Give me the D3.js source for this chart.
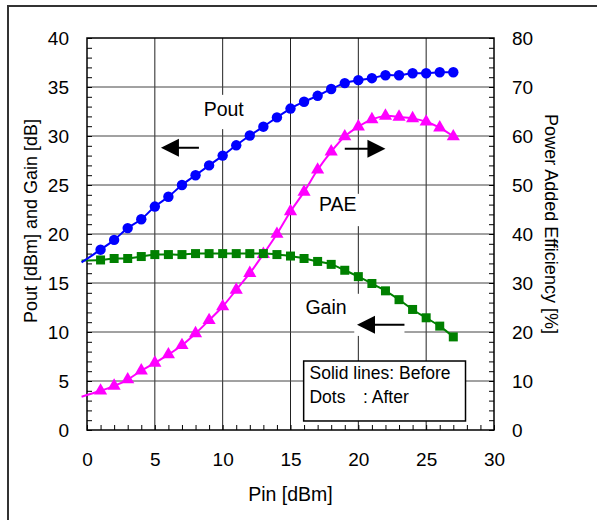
<!DOCTYPE html>
<html>
<head>
<meta charset="utf-8">
<script src="https://d3js.org/d3.v7.min.js"></script>
<style>
  body { margin: 0; background: #fff; }
  text { font-family: "Liberation Sans", Arial, sans-serif; fill: #000; }
</style>
</head>
<body>
<div id="chart"></div>
<script>
// Pin [dBm] for the measured dots
const pin = [1,2,3,4,5,6,7,8,9,10,11,12,13,14,15,16,17,18,19,20,21,22,23,24,25,26,27];
// "After" (dots)
const poutAfter = [18.4,19.4,20.6,21.5,22.8,23.8,25.0,26.0,27.0,28.0,29.05,30.05,30.95,31.9,32.8,33.5,34.1,34.8,35.4,35.7,35.9,36.2,36.2,36.4,36.4,36.5,36.5];
const gainAfter = [17.35,17.5,17.5,17.7,17.9,17.9,17.9,18.0,18.0,18.0,18.0,18.0,18.0,17.9,17.75,17.5,17.2,16.9,16.3,15.65,14.95,14.2,13.3,12.3,11.45,10.6,9.5];
const paeAfter = [8.0,9.0,10.3,12.1,13.7,15.4,17.3,19.7,22.4,25.2,28.6,32.0,35.9,40.0,44.6,48.6,53.1,56.8,59.9,61.9,63.4,64.1,63.9,63.6,62.9,61.7,59.9];
// "Before" (solid lines)
const pinBefore = [-0.4,1,2,3,4,5,6,7,8,9,10,11,12,13,14,15,16,17,18,19,20,21,22,23,24,25,26,27];
const poutBefore = [17.1,18.4,19.4,20.6,21.5,22.8,23.8,25.0,26.0,27.0,28.0,29.05,30.05,30.95,31.9,32.8,33.5,34.1,34.8,35.4,35.7,35.9,36.2,36.2,36.4,36.4,36.5,36.5];
const gainBefore = [17.3,17.35,17.5,17.5,17.7,17.9,17.9,17.9,18.0,18.0,18.0,18.0,18.0,18.0,17.9,17.75,17.5,17.2,16.9,16.3,15.65,14.95,14.2,13.3,12.3,11.45,10.6,9.5];
const paeBefore = [6.8,8.0,9.0,10.3,12.1,13.7,15.4,17.3,19.7,22.4,25.2,28.6,32.0,35.9,40.0,44.6,48.6,53.1,56.8,59.9,61.9,63.4,64.1,63.9,63.6,62.9,61.7,59.9];

const xTicks = [0,5,10,15,20,25,30];
const yLeftTicks = [0,5,10,15,20,25,30,35,40];
const yRightTicks = [0,10,20,30,40,50,60,70,80];

const w = 597, h = 520;
const pLeft = 87, pRight = 494, pTop = 38, pBottom = 430;

const svg = d3.select("#chart").append("svg")
  .attr("width", w).attr("height", h);

// outer frame
svg.append("rect")
  .attr("x", 8).attr("y", 6).attr("width", 620).attr("height", 540)
  .attr("fill", "#fff").attr("stroke", "#333").attr("stroke-width", 2);

const x = d3.scaleLinear().domain([0, 30]).range([pLeft, pRight]);
const yL = d3.scaleLinear().domain([0, 40]).range([pBottom, pTop]);
const yR = d3.scaleLinear().domain([0, 80]).range([pBottom, pTop]);

// gridlines
svg.append("g").selectAll("line")
  .data(xTicks.slice(1, -1)).enter().append("line")
  .attr("x1", d => x(d)).attr("x2", d => x(d))
  .attr("y1", pTop).attr("y2", pBottom)
  .attr("stroke", "#222").attr("stroke-width", 1);
svg.append("g").selectAll("line")
  .data(yLeftTicks.slice(1, -1)).enter().append("line")
  .attr("x1", pLeft).attr("x2", pRight)
  .attr("y1", d => yL(d)).attr("y2", d => yL(d))
  .attr("stroke", "#444").attr("stroke-width", 1);

// white boxes behind the annotations
const masks = [[7.9, 34.2, 4.6, 3.5], [16.6, 24.1, 3.7, 3.3], [19.7, 13.9, 3.7, 4.3]];
svg.append("g").selectAll("rect")
  .data(masks).enter().append("rect")
  .attr("x", d => x(d[0])).attr("y", d => yL(d[1]))
  .attr("width", d => x(d[0] + d[2]) - x(d[0]))
  .attr("height", d => yL(d[1] - d[3]) - yL(d[1]))
  .attr("fill", "#fff");

// axes (ticks inside)
function styleAxis(g) {
  g.select(".domain").remove();
  g.selectAll("line").attr("stroke", "#000");
  g.selectAll("text").style("font-size", "19px").style("font-family", "'Liberation Sans', Arial, sans-serif");
}
svg.append("g").attr("transform", `translate(0,${pBottom})`)
  .call(d3.axisBottom(x).tickValues(d3.range(0, 31)).tickSize(-5).tickPadding(23)
    .tickFormat(d => xTicks.includes(d) ? d : ""))
  .call(styleAxis);
svg.append("g").attr("transform", `translate(${pLeft},0)`)
  .call(d3.axisLeft(yL).tickValues(d3.range(0, 41)).tickSize(-5).tickPadding(18)
    .tickFormat(d => yLeftTicks.includes(d) ? d : ""))
  .call(styleAxis);
svg.append("g").attr("transform", `translate(${pRight},0)`)
  .call(d3.axisRight(yR).tickValues(d3.range(0, 81, 2)).tickSize(-5).tickPadding(18)
    .tickFormat(d => yRightTicks.includes(d) ? d : ""))
  .call(styleAxis);

// plot frame
svg.append("rect")
  .attr("x", pLeft).attr("y", pTop).attr("width", pRight - pLeft).attr("height", pBottom - pTop)
  .attr("fill", "none").attr("stroke", "#000").attr("stroke-width", 1.5);

// solid lines (before)
const lineL = d3.line().x(d => x(d[0])).y(d => yL(d[1])).curve(d3.curveCatmullRom);
const lineR = d3.line().x(d => x(d[0])).y(d => yR(d[1])).curve(d3.curveCatmullRom);
const zipB = arr => pinBefore.map((p, i) => [p, arr[i]]);
const zipA = arr => pin.map((p, i) => [p, arr[i]]);

svg.append("path").attr("d", lineR(zipB(paeBefore)))
  .attr("fill", "none").attr("stroke", "#ff00ff").attr("stroke-width", 2);
svg.append("path").attr("d", lineL(zipB(gainBefore)))
  .attr("fill", "none").attr("stroke", "#008000").attr("stroke-width", 2);
svg.append("path").attr("d", lineL(zipB(poutBefore)))
  .attr("fill", "none").attr("stroke", "#0000ff").attr("stroke-width", 2);

// dots (after)
svg.append("g").selectAll("path")
  .data(zipA(paeAfter)).enter().append("path")
  .attr("d", d3.symbol().type(d3.symbolTriangle).size(75))
  .attr("transform", d => `translate(${x(d[0])},${yR(d[1])})`)
  .attr("fill", "#ff00ff");
svg.append("g").selectAll("rect")
  .data(zipA(gainAfter)).enter().append("rect")
  .attr("x", d => x(d[0]) - 4.5).attr("y", d => yL(d[1]) - 4.5)
  .attr("width", 9).attr("height", 9)
  .attr("fill", "#008000");
svg.append("g").selectAll("circle")
  .data(zipA(poutAfter)).enter().append("circle")
  .attr("cx", d => x(d[0])).attr("cy", d => yL(d[1])).attr("r", 5.2)
  .attr("fill", "#0000ff");

// arrows: [tailX, tipX, y(left axis)]
const arrows = [[8.25, 5.45, 28.8], [19.0, 22.0, 28.7], [23.4, 19.9, 10.75]];
arrows.forEach(a => {
  const x0 = x(a[0]), x1 = x(a[1]), yy = yL(a[2]);
  const dir = Math.sign(x1 - x0);
  svg.append("line")
    .attr("x1", x0).attr("x2", x1 - dir * 12).attr("y1", yy).attr("y2", yy)
    .attr("stroke", "#000").attr("stroke-width", 2);
  svg.append("path")
    .attr("d", `M${x1},${yy} L${x1 - dir * 18},${yy - 9} L${x1 - dir * 18},${yy + 9} Z`)
    .attr("fill", "#000");
});

// series labels
const labels = [["Pout", 8.6, 32.0], ["PAE", 17.1, 22.35], ["Gain", 16.1, 11.8]];
svg.append("g").selectAll("text")
  .data(labels).enter().append("text")
  .attr("x", d => x(d[1])).attr("y", d => yL(d[2]))
  .style("font-size", "19.5px")
  .text(d => d[0]);

// legend box
svg.append("rect")
  .attr("x", x(15.97)).attr("y", yL(7.04))
  .attr("width", x(27.9) - x(15.97)).attr("height", yL(0.92) - yL(7.04))
  .attr("fill", "#fff").attr("stroke", "#000").attr("stroke-width", 1.5);
svg.append("text").attr("x", x(16.4)).attr("y", yL(5.2))
  .style("font-size", "17.5px").text("Solid lines: Before");
svg.append("text").attr("x", x(16.4)).attr("y", yL(2.75))
  .style("font-size", "17.5px").text("Dots");
svg.append("text").attr("x", x(20.35)).attr("y", yL(2.75))
  .style("font-size", "17.5px").text(": After");

// axis titles
svg.append("text")
  .attr("x", (pLeft + pRight) / 2).attr("y", 501)
  .attr("text-anchor", "middle").style("font-size", "19.5px")
  .text("Pin [dBm]");
svg.append("text")
  .attr("transform", `translate(37,221) rotate(-90)`)
  .attr("text-anchor", "middle").style("font-size", "18px")
  .text("Pout [dBm] and Gain [dB]");
svg.append("text")
  .attr("transform", `translate(545,224) rotate(90)`)
  .attr("text-anchor", "middle").style("font-size", "18px")
  .text("Power Added Efficiency [%]");
</script>
</body>
</html>
